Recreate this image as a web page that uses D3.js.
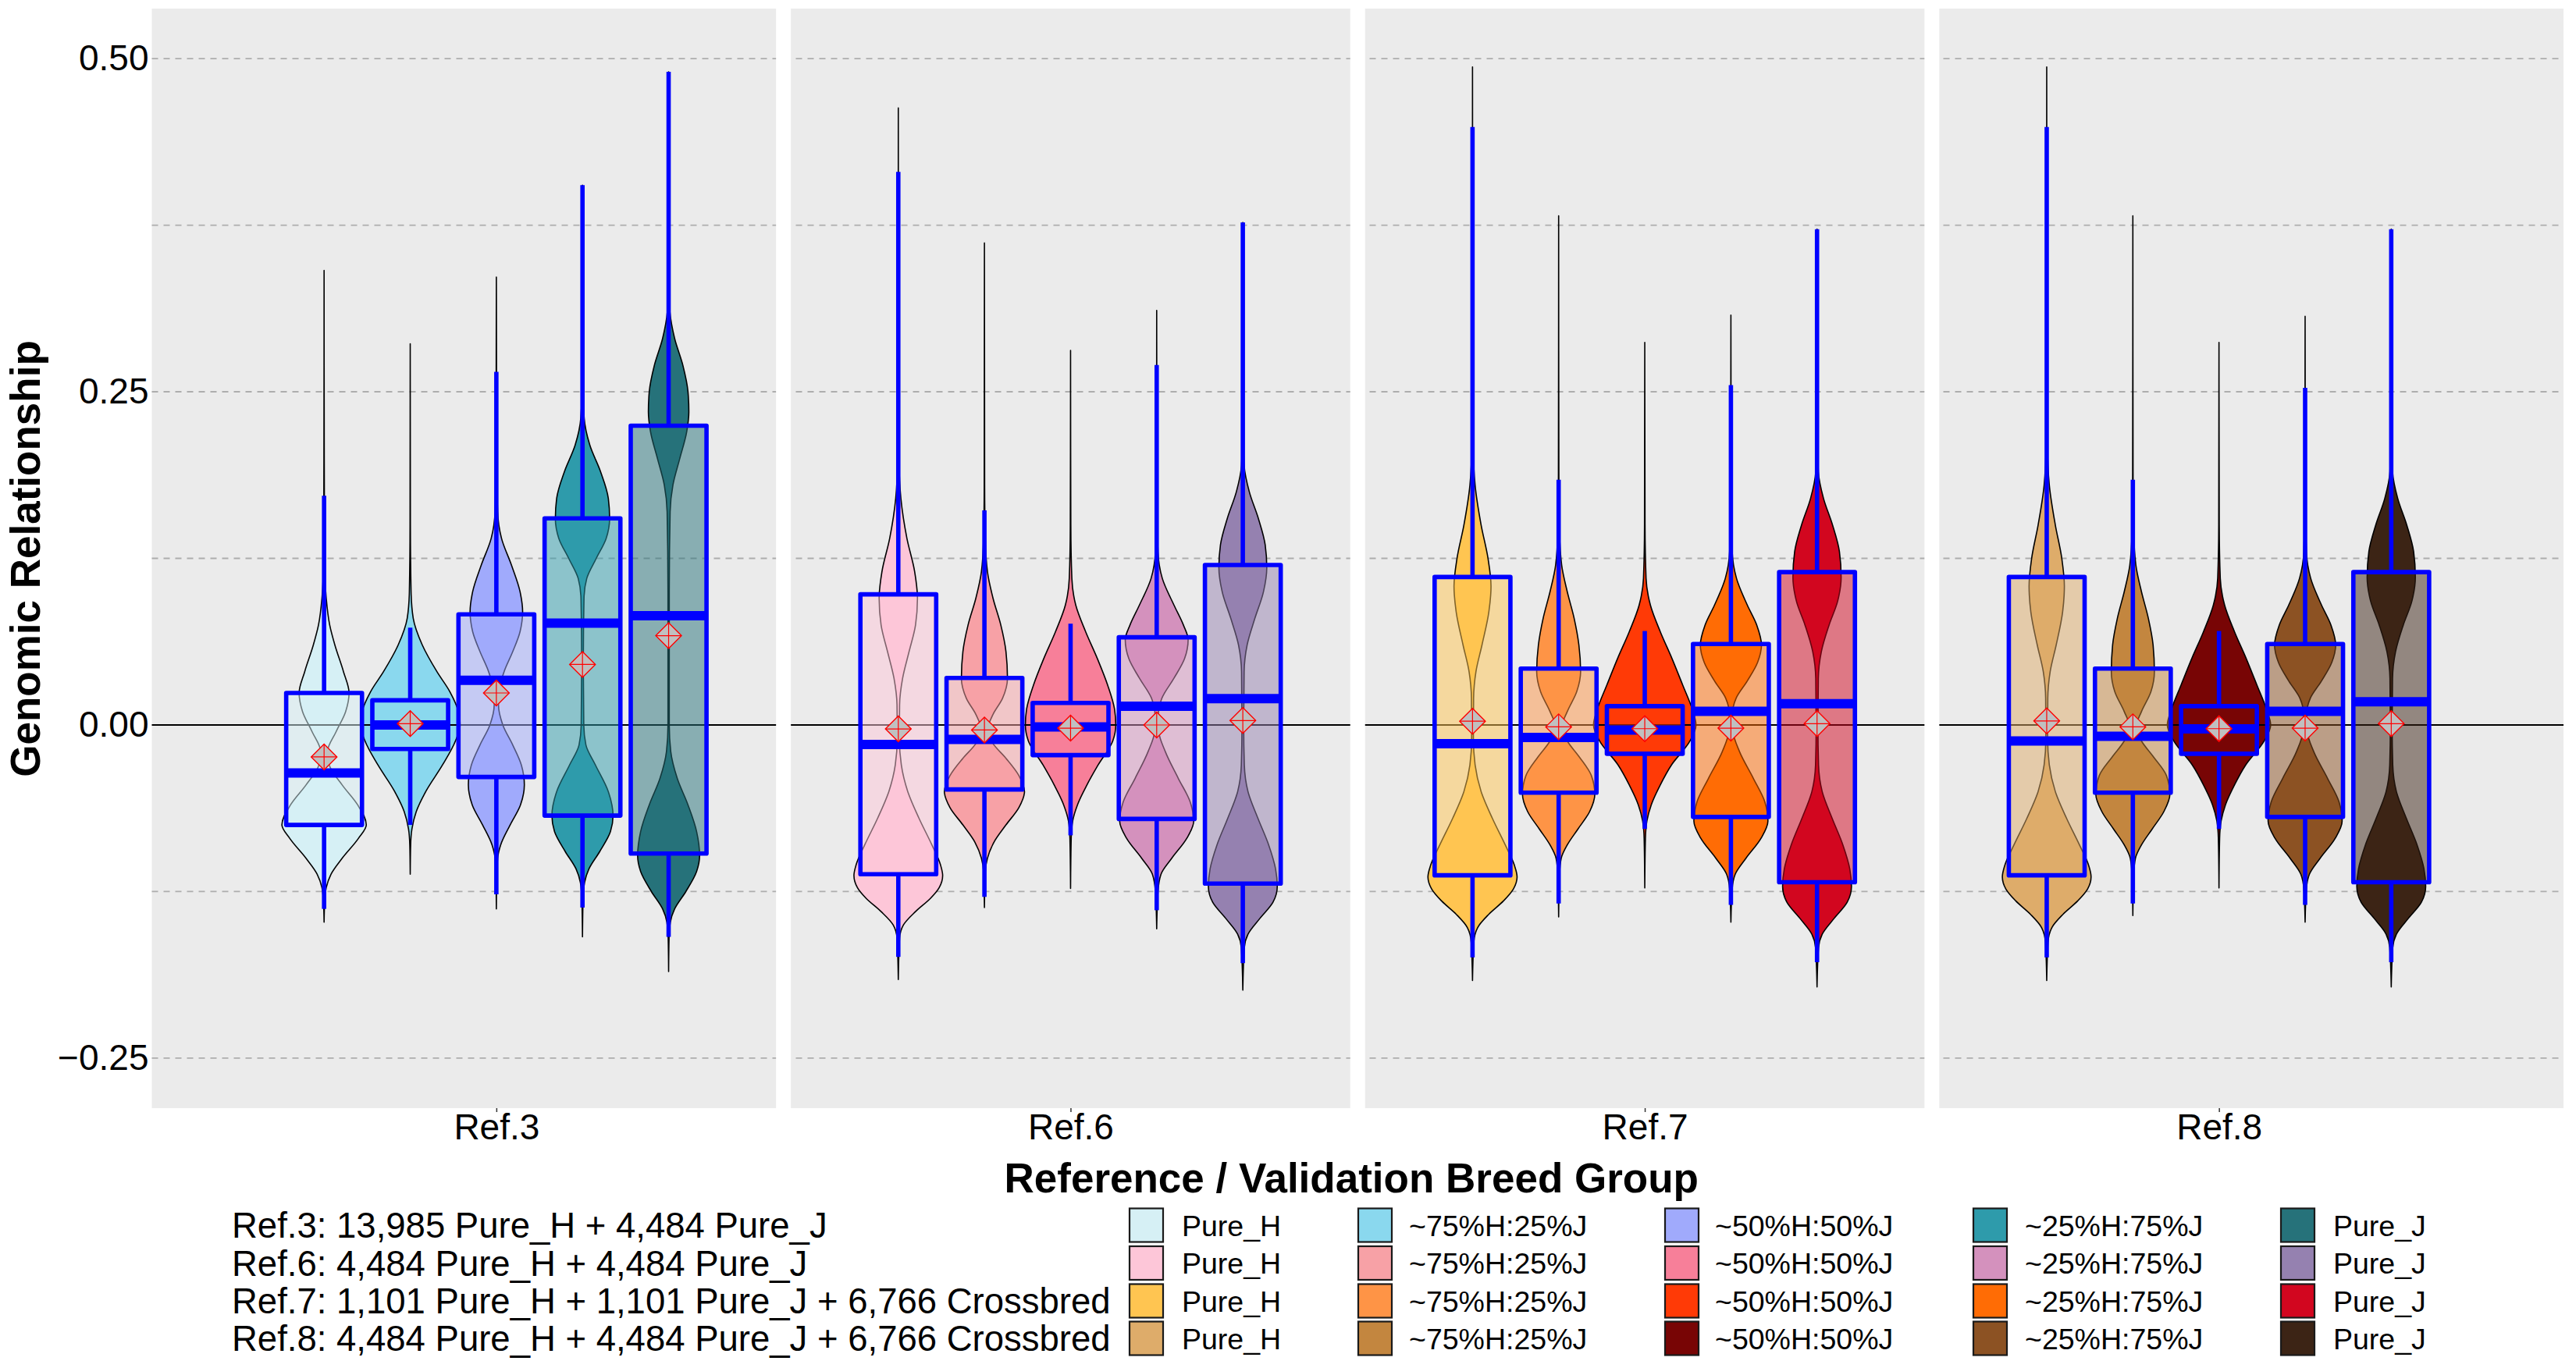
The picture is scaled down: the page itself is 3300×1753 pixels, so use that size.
<!DOCTYPE html>
<html>
<head>
<meta charset="utf-8">
<script src="https://cdn.jsdelivr.net/npm/d3@7"></script>
<style>
  body { margin: 0; background: #ffffff; }
  svg { display: block; font-family: "Liberation Sans", Arial, Helvetica, sans-serif; }
</style>
</head>
<body>
<div id="chart"></div>
<script>
// ---- data ----
const refGroups = ["Ref.3", "Ref.6", "Ref.7", "Ref.8"];
const breedGroups = ["Pure_H", "~75%H:25%J", "~50%H:50%J", "~25%H:75%J", "Pure_J"];
const refNotes = [
  "Ref.3: 13,985 Pure_H + 4,484 Pure_J",
  "Ref.6: 4,484 Pure_H + 4,484 Pure_J",
  "Ref.7: 1,101 Pure_H + 1,101 Pure_J + 6,766 Crossbred",
  "Ref.8: 4,484 Pure_H + 4,484 Pure_J + 6,766 Crossbred"
];
const yTicks = [0.5, 0.25, 0, -0.25];
const yGrid = [0.5, 0.375, 0.25, 0.125, -0.125, -0.25];

// fill colours, one row per reference group
const coloursRef3 = ["#d6f0f5", "#8ad8ee", "#a0aafc", "#2e9bab", "#26727a"];
const coloursRef6 = ["#fdc6d8", "#f7a1a6", "#f77f99", "#d491bd", "#9581b0"];
const coloursRef7 = ["#ffc551", "#fe9446", "#ff3a06", "#ff6c05", "#d2061f"];
const coloursRef8 = ["#deac6a", "#c3863f", "#780505", "#8c5223", "#3c2415"];

// box statistics: [lower whisker, Q1, median, Q3, upper whisker, mean]
const statsRef3 = [
  [-0.138, -0.075, -0.036, 0.024, 0.172, -0.024],
  [-0.075, -0.018, 0.000, 0.0185, 0.073, 0.001],
  [-0.127, -0.039, 0.0335, 0.083, 0.265, 0.024],
  [-0.137, -0.068, 0.0764, 0.155, 0.405, 0.0454],
  [-0.159, -0.0965, 0.082, 0.2245, 0.490, 0.067]
];
const statsRef6 = [
  [-0.174, -0.112, -0.0146, 0.098, 0.415, -0.003],
  [-0.129, -0.0484, -0.0108, 0.0353, 0.161, -0.0038],
  [-0.0828, -0.0226, -0.0014, 0.0165, 0.076, -0.0024],
  [-0.139, -0.0705, 0.0141, 0.0658, 0.270, 0.000],
  [-0.1787, -0.119, 0.0197, 0.120, 0.377, 0.0033]
];
const statsRef7 = [
  [-0.1744, -0.1128, -0.0141, 0.111, 0.4486, 0.0028],
  [-0.134, -0.0508, -0.0094, 0.0423, 0.184, -0.0014],
  [-0.078, -0.0216, -0.0038, 0.0141, 0.0705, -0.0028],
  [-0.135, -0.069, 0.0103, 0.0607, 0.255, -0.0024],
  [-0.178, -0.118, 0.016, 0.1147, 0.372, 0.001]
];
const statsRef8 = [
  [-0.1744, -0.1128, -0.012, 0.111, 0.4486, 0.003],
  [-0.134, -0.0508, -0.0085, 0.0423, 0.184, -0.0014],
  [-0.078, -0.0216, -0.003, 0.0141, 0.0705, -0.0028],
  [-0.135, -0.069, 0.0103, 0.0607, 0.253, -0.0024],
  [-0.178, -0.118, 0.0174, 0.1147, 0.372, 0.001]
];

// violin outlines: [value, relative width] from max down to min
const violinsRef3 = [
  [[0.341,0],[0.2,0.004],[0.12,0.015],[0.095,0.05],[0.075,0.13],[0.06,0.25],[0.04,0.45],[0.024,0.58],[0.01,0.5],[-0.005,0.28],[-0.02,0.08],[-0.03,0.12],[-0.045,0.42],[-0.06,0.78],[-0.075,0.98],[-0.085,0.8],[-0.1,0.42],[-0.112,0.16],[-0.122,0.05],[-0.132,0.015],[-0.148,0]],
  [[0.286,0],[0.15,0.004],[0.1,0.02],[0.08,0.07],[0.06,0.28],[0.04,0.62],[0.025,0.92],[0.01,1.12],[0,1.16],[-0.012,1.05],[-0.03,0.75],[-0.05,0.36],[-0.065,0.14],[-0.078,0.04],[-0.09,0.01],[-0.112,0]],
  [[0.336,0],[0.2,0.008],[0.16,0.03],[0.14,0.12],[0.12,0.35],[0.1,0.55],[0.085,0.61],[0.07,0.55],[0.055,0.38],[0.04,0.18],[0.025,0.06],[0.015,0.05],[0,0.15],[-0.015,0.38],[-0.03,0.58],[-0.045,0.65],[-0.06,0.56],[-0.075,0.32],[-0.09,0.1],[-0.1,0.03],[-0.115,0.01],[-0.138,0]],
  [[0.405,0],[0.26,0.006],[0.23,0.04],[0.21,0.17],[0.19,0.42],[0.17,0.6],[0.155,0.63],[0.14,0.55],[0.125,0.32],[0.11,0.1],[0.095,0.035],[0.05,0.02],[0,0.03],[-0.015,0.08],[-0.03,0.3],[-0.05,0.6],[-0.068,0.71],[-0.08,0.65],[-0.095,0.4],[-0.108,0.15],[-0.118,0.05],[-0.13,0.015],[-0.159,0]],
  [[0.49,0],[0.33,0.005],[0.31,0.03],[0.29,0.14],[0.27,0.33],[0.25,0.45],[0.235,0.47],[0.22,0.42],[0.2,0.26],[0.18,0.1],[0.16,0.035],[0.1,0.015],[0,0.015],[-0.02,0.05],[-0.04,0.2],[-0.06,0.45],[-0.08,0.65],[-0.098,0.72],[-0.11,0.65],[-0.125,0.4],[-0.138,0.14],[-0.148,0.04],[-0.16,0.01],[-0.185,0]]
];
const violinsRef6 = [
  [[0.463,0],[0.25,0.004],[0.2,0.015],[0.17,0.06],[0.14,0.2],[0.115,0.38],[0.095,0.445],[0.075,0.4],[0.055,0.25],[0.035,0.1],[0.015,0.03],[-0.01,0.025],[-0.03,0.07],[-0.05,0.22],[-0.07,0.48],[-0.09,0.78],[-0.105,0.98],[-0.113,1.03],[-0.122,0.95],[-0.13,0.75],[-0.14,0.4],[-0.15,0.12],[-0.16,0.03],[-0.191,0]],
  [[0.3616,0],[0.18,0.005],[0.14,0.02],[0.115,0.07],[0.095,0.2],[0.075,0.38],[0.055,0.5],[0.035,0.535],[0.02,0.42],[0.008,0.2],[-0.004,0.07],[-0.014,0.2],[-0.025,0.5],[-0.038,0.8],[-0.05,0.93],[-0.062,0.8],[-0.075,0.5],[-0.088,0.22],[-0.1,0.07],[-0.11,0.02],[-0.137,0]],
  [[0.281,0],[0.15,0.006],[0.11,0.03],[0.09,0.12],[0.07,0.35],[0.05,0.62],[0.03,0.86],[0.012,1.02],[0,1.05],[-0.012,0.98],[-0.03,0.64],[-0.045,0.38],[-0.06,0.16],[-0.072,0.05],[-0.085,0.015],[-0.1227,0]],
  [[0.311,0],[0.17,0.006],[0.13,0.03],[0.11,0.13],[0.09,0.4],[0.075,0.62],[0.064,0.73],[0.05,0.65],[0.035,0.4],[0.02,0.12],[0.008,0.04],[-0.005,0.05],[-0.02,0.2],[-0.04,0.5],[-0.058,0.78],[-0.072,0.86],[-0.085,0.7],[-0.1,0.35],[-0.112,0.1],[-0.125,0.03],[-0.153,0]],
  [[0.377,0],[0.22,0.006],[0.195,0.03],[0.175,0.15],[0.155,0.36],[0.135,0.52],[0.118,0.556],[0.1,0.48],[0.08,0.28],[0.06,0.1],[0.04,0.03],[0,0.02],[-0.03,0.035],[-0.05,0.12],[-0.07,0.35],[-0.09,0.6],[-0.108,0.76],[-0.121,0.8],[-0.133,0.7],[-0.145,0.4],[-0.157,0.12],[-0.167,0.035],[-0.199,0]]
];
const violinsRef7 = [
  [[0.4937,0],[0.26,0.004],[0.21,0.015],[0.18,0.06],[0.15,0.2],[0.125,0.36],[0.104,0.43],[0.085,0.38],[0.06,0.22],[0.04,0.08],[0.02,0.025],[-0.01,0.02],[-0.03,0.06],[-0.05,0.2],[-0.07,0.46],[-0.09,0.76],[-0.105,0.97],[-0.114,1.035],[-0.123,0.95],[-0.132,0.72],[-0.142,0.38],[-0.152,0.12],[-0.163,0.03],[-0.1918,0]],
  [[0.382,0],[0.19,0.005],[0.145,0.02],[0.12,0.07],[0.1,0.2],[0.08,0.36],[0.06,0.47],[0.04,0.51],[0.025,0.42],[0.01,0.2],[-0.002,0.07],[-0.012,0.2],[-0.024,0.48],[-0.038,0.76],[-0.052,0.84],[-0.065,0.72],[-0.078,0.45],[-0.09,0.2],[-0.1,0.06],[-0.112,0.02],[-0.144,0]],
  [[0.287,0],[0.15,0.006],[0.11,0.03],[0.09,0.13],[0.07,0.36],[0.05,0.63],[0.03,0.88],[0.012,1.1],[0,1.19],[-0.012,1.05],[-0.03,0.62],[-0.045,0.36],[-0.06,0.15],[-0.072,0.05],[-0.085,0.015],[-0.1223,0]],
  [[0.3075,0],[0.17,0.006],[0.13,0.03],[0.11,0.13],[0.09,0.38],[0.075,0.6],[0.06,0.71],[0.047,0.62],[0.033,0.38],[0.02,0.12],[0.008,0.035],[-0.005,0.05],[-0.02,0.2],[-0.04,0.52],[-0.058,0.79],[-0.072,0.86],[-0.085,0.7],[-0.1,0.35],[-0.112,0.1],[-0.123,0.03],[-0.148,0]],
  [[0.372,0],[0.22,0.006],[0.19,0.03],[0.17,0.15],[0.15,0.36],[0.13,0.52],[0.111,0.56],[0.093,0.48],[0.075,0.28],[0.055,0.1],[0.035,0.03],[0,0.02],[-0.03,0.035],[-0.05,0.12],[-0.07,0.35],[-0.09,0.6],[-0.108,0.76],[-0.121,0.8],[-0.133,0.7],[-0.145,0.4],[-0.157,0.12],[-0.167,0.035],[-0.1966,0]]
];
const violinsRef8 = [
  [[0.4937,0],[0.26,0.004],[0.21,0.015],[0.18,0.06],[0.15,0.2],[0.125,0.35],[0.104,0.41],[0.085,0.37],[0.06,0.22],[0.04,0.08],[0.02,0.025],[-0.01,0.02],[-0.03,0.06],[-0.05,0.2],[-0.07,0.46],[-0.09,0.76],[-0.105,0.97],[-0.114,1.03],[-0.123,0.95],[-0.132,0.72],[-0.142,0.38],[-0.152,0.12],[-0.163,0.03],[-0.1918,0]],
  [[0.382,0],[0.19,0.005],[0.145,0.02],[0.12,0.07],[0.1,0.2],[0.08,0.36],[0.06,0.47],[0.04,0.5],[0.025,0.42],[0.01,0.2],[-0.002,0.07],[-0.012,0.2],[-0.024,0.48],[-0.038,0.78],[-0.052,0.86],[-0.065,0.72],[-0.078,0.45],[-0.09,0.2],[-0.1,0.06],[-0.112,0.02],[-0.143,0]],
  [[0.287,0],[0.15,0.006],[0.11,0.03],[0.09,0.13],[0.07,0.36],[0.05,0.63],[0.03,0.88],[0.012,1.1],[0,1.2],[-0.012,1.05],[-0.03,0.62],[-0.045,0.36],[-0.06,0.15],[-0.072,0.05],[-0.085,0.015],[-0.1223,0]],
  [[0.3066,0],[0.17,0.006],[0.13,0.03],[0.11,0.13],[0.09,0.38],[0.075,0.6],[0.06,0.71],[0.047,0.62],[0.033,0.38],[0.02,0.12],[0.008,0.035],[-0.005,0.05],[-0.02,0.2],[-0.04,0.52],[-0.058,0.79],[-0.072,0.86],[-0.085,0.7],[-0.1,0.35],[-0.112,0.1],[-0.123,0.03],[-0.148,0]],
  [[0.372,0],[0.22,0.006],[0.19,0.03],[0.17,0.15],[0.15,0.36],[0.13,0.52],[0.111,0.56],[0.093,0.48],[0.075,0.28],[0.055,0.1],[0.035,0.03],[0,0.02],[-0.03,0.035],[-0.05,0.12],[-0.07,0.35],[-0.09,0.6],[-0.108,0.76],[-0.121,0.8],[-0.133,0.7],[-0.145,0.4],[-0.157,0.12],[-0.167,0.035],[-0.1966,0]]
];

const colours = [coloursRef3, coloursRef6, coloursRef7, coloursRef8];
const stats = [statsRef3, statsRef6, statsRef7, statsRef8];
const violins = [violinsRef3, violinsRef6, violinsRef7, violinsRef8];

// ---- layout ----
const width = 3300, height = 1753;
const panel = {left: 194.5, right: 3284, top: 11, bottom: 1420};

const svg = d3.select("#chart").append("svg")
    .attr("width", width)
    .attr("height", height)
    .attr("viewBox", `0 0 ${width} ${height}`);

// one continuous panel, groups 1..4 with ggplot's 0.6 discrete expansion
const x = d3.scaleLinear().domain([0.4, 4.6]).range([panel.left, panel.right]);
const y = d3.scaleLinear().domain([-0.2875, 0.5375]).range([panel.bottom, panel.top]);
const unit = x(1) - x(0);
// dodge the five breed groups inside each reference group
const inner = d3.scaleBand().domain(breedGroups).range([-0.375 * unit, 0.375 * unit]);
const bw = inner.bandwidth();
const boxW = bw * 0.88;

// panel background
svg.append("rect")
    .attr("x", panel.left).attr("y", panel.top)
    .attr("width", panel.right - panel.left)
    .attr("height", panel.bottom - panel.top)
    .attr("fill", "#ebebeb");

// dashed grid lines
svg.append("g").selectAll("line")
    .data(yGrid)
    .enter().append("line")
    .attr("x1", panel.left).attr("x2", panel.right)
    .attr("y1", d => y(d)).attr("y2", d => y(d))
    .attr("stroke", "#adadad")
    .attr("stroke-width", 1.8)
    .attr("stroke-dasharray", "8,7");

// flatten everything into one list of boxes
const items = [];
refGroups.forEach((ref, gi) => {
    breedGroups.forEach((breed, bi) => {
        items.push({
            cx: x(gi + 1) + inner(breed) + bw / 2,
            colour: colours[gi][bi],
            s: stats[gi][bi],
            v: violins[gi][bi]
        });
    });
});

// violins
const violinArea = d3.area()
    .curve(d3.curveMonotoneY)
    .y(d => y(d[0]))
    .x0(d => -d[1] * bw / 2)
    .x1(d => d[1] * bw / 2);

svg.append("g").selectAll("path")
    .data(items)
    .enter().append("path")
    .attr("transform", d => `translate(${d.cx},0)`)
    .attr("d", d => violinArea(d.v))
    .attr("fill", d => d.colour)
    .attr("stroke", "#000")
    .attr("stroke-width", 1.6)
    .attr("stroke-linejoin", "round");

// zero reference line
svg.append("line")
    .attr("x1", panel.left).attr("x2", panel.right)
    .attr("y1", y(0)).attr("y2", y(0))
    .attr("stroke", "#000")
    .attr("stroke-width", 2);

// white separators between reference groups
svg.append("g").selectAll("line")
    .data([1.5, 2.5, 3.5])
    .enter().append("line")
    .attr("x1", d => x(d)).attr("x2", d => x(d))
    .attr("y1", panel.top).attr("y2", panel.bottom)
    .attr("stroke", "#ffffff")
    .attr("stroke-width", 19);

// boxplots
const boxes = svg.append("g").selectAll("g")
    .data(items)
    .enter().append("g")
    .attr("transform", d => `translate(${d.cx},0)`);

boxes.append("line")
    .attr("y1", d => y(d.s[3])).attr("y2", d => y(d.s[4]))
    .attr("stroke", "#0000ff").attr("stroke-width", 5.6);
boxes.append("line")
    .attr("y1", d => y(d.s[1])).attr("y2", d => y(d.s[0]))
    .attr("stroke", "#0000ff").attr("stroke-width", 5.6);
boxes.append("rect")
    .attr("x", -boxW / 2)
    .attr("y", d => y(d.s[3]))
    .attr("width", boxW)
    .attr("height", d => y(d.s[1]) - y(d.s[3]))
    .attr("fill", d => d.colour)
    .attr("fill-opacity", 0.5)
    .attr("stroke", "#0000ff")
    .attr("stroke-width", 5.6)
    .attr("stroke-linejoin", "round");
boxes.append("line")
    .attr("x1", -boxW / 2).attr("x2", boxW / 2)
    .attr("y1", d => y(d.s[2])).attr("y2", d => y(d.s[2]))
    .attr("stroke", "#0000ff").attr("stroke-width", 12);

// mean markers: grey diamond with red outline and cross
const r = 16.5;
const means = boxes.append("g")
    .attr("transform", d => `translate(0,${y(d.s[5])})`);
means.append("path")
    .attr("d", `M0,${-r}L${r},0L0,${r}L${-r},0Z`)
    .attr("fill", "#c0c0c0")
    .attr("stroke", "#ff0000")
    .attr("stroke-width", 1.4);
means.append("path")
    .attr("d", `M${-r},0H${r}M0,${-r}V${r}`)
    .attr("stroke", "#ff0000")
    .attr("stroke-width", 1.2);

// axes
const yAxis = svg.append("g")
    .attr("transform", `translate(${panel.left},0)`)
    .call(d3.axisLeft(y).tickValues(yTicks).tickFormat(d3.format(".2f")).tickSize(0).tickPadding(4));
yAxis.select(".domain").remove();
yAxis.selectAll("text")
    .attr("font-size", 46)
    .attr("fill", "#000")
    .attr("font-family", "Liberation Sans, Arial, sans-serif");

const xAxis = svg.append("g")
    .attr("transform", `translate(0,${panel.bottom})`)
    .call(d3.axisBottom(x).tickValues([1, 2, 3, 4]).tickFormat(d => refGroups[d - 1]).tickSize(5).tickPadding(2));
xAxis.select(".domain").remove();
xAxis.selectAll("line").attr("stroke", "#333").attr("stroke-width", 1.5);
xAxis.selectAll("text")
    .attr("font-size", 46)
    .attr("fill", "#000")
    .attr("font-family", "Liberation Sans, Arial, sans-serif");

// axis titles
svg.append("text")
    .attr("x", (panel.left + panel.right) / 2 - 8)
    .attr("y", 1528)
    .attr("text-anchor", "middle")
    .attr("font-size", 53)
    .attr("font-weight", "bold")
    .text("Reference / Validation Breed Group");

svg.append("text")
    .attr("transform", "translate(51,716) rotate(-90)")
    .attr("text-anchor", "middle")
    .attr("font-size", 53)
    .attr("font-weight", "bold")
    .text("Genomic Relationship");

// legend: notes on the left, 4 x 5 grid of keys on the right
const rowY = [1570, 1618.5, 1667, 1715];
const keyX = [1447, 1740, 2133, 2528, 2922];
const labelX = [1514, 1805, 2197, 2594, 2989];
const keySize = 43;

svg.append("g").selectAll("text")
    .data(refNotes)
    .enter().append("text")
    .attr("x", 297)
    .attr("y", (d, i) => rowY[i] + 16)
    .attr("font-size", 45.5)
    .text(d => d);

const legendRows = svg.append("g").selectAll("g")
    .data(colours)
    .enter().append("g")
    .attr("transform", (d, i) => `translate(0,${rowY[i]})`);

legendRows.selectAll("rect")
    .data(d => d)
    .enter().append("rect")
    .attr("x", (d, i) => keyX[i])
    .attr("y", -keySize / 2)
    .attr("width", keySize)
    .attr("height", keySize)
    .attr("fill", d => d)
    .attr("stroke", "#1a1a1a")
    .attr("stroke-width", 2.2);

legendRows.selectAll("text")
    .data(breedGroups)
    .enter().append("text")
    .attr("x", (d, i) => labelX[i])
    .attr("y", 13.5)
    .attr("font-size", 37.5)
    .text(d => d);
</script>
</body>
</html>
